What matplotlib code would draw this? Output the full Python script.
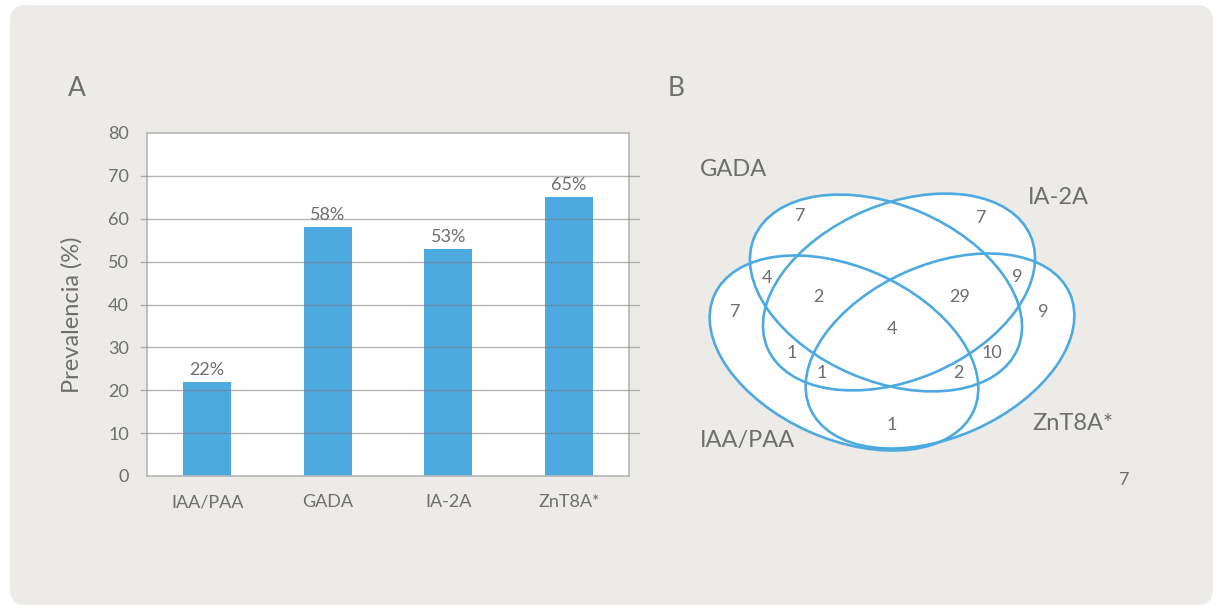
import matplotlib
matplotlib.use('Agg')
import matplotlib.pyplot as plt
from matplotlib.patches import Ellipse, FancyBboxPatch

plt.rcParams['font.family'] = ['Lato', 'DejaVu Sans']

# bar chart data (panel A)
categories = ['IAA/PAA', 'GADA', 'IA-2A', 'ZnT8A*']
prevalence = [22, 58, 53, 65]
y_ticks = [0, 10, 20, 30, 40, 50, 60, 70, 80]

# venn data (panel B)
set_names = ['GADA', 'IA-2A', 'IAA/PAA', 'ZnT8A*']
region_names = ['GADA', 'IA-2A', 'GADA+IAA', 'IA-2A+ZnT8A', 'IAA', 'GADA+IA-2A+IAA',
                'GADA+IA-2A+ZnT8A', 'ZnT8A', 'all', 'IA-2A+IAA', 'GADA+ZnT8A',
                'IA-2A+IAA+ZnT8A', 'GADA+IAA+ZnT8A', 'IAA+ZnT8A', 'none']
region_counts = [7, 7, 4, 9, 7, 2, 29, 9, 4, 1, 10, 1, 2, 1, 7]

text_col = '#6e6e6e'
blue = '#4daae0'
bg = '#ecebe7'

fig = plt.figure(figsize=(12.15, 6.05), dpi=100)
fig.patch.set_facecolor('white')

# full-figure layer in pixel units for the panel background and the venn
base = fig.add_axes([0, 0, 1, 1])
base.set_xlim(0, 1215)
base.set_ylim(605, 0)
base.axis('off')
base.add_patch(FancyBboxPatch((10, 5), 1203, 600, boxstyle='round,pad=0,rounding_size=16',
                              fc=bg, ec='none', zorder=0))

base.text(77, 88, 'A', fontsize=19, color=text_col, ha='center', va='center')
base.text(676, 88, 'B', fontsize=19, color=text_col, ha='center', va='center')

# ---- panel A ----
ax = fig.add_axes([147 / 1215, 1 - 476 / 605, (629 - 147) / 1215, (476 - 133) / 605])
ax.set_facecolor('white')
x = range(len(categories))
bars = ax.bar(x, prevalence, width=0.4, color=blue, zorder=2)
ax.set_xlim(-0.5, 3.5)
ax.set_ylim(0, 80)
ax.set_yticks(y_ticks)
ax.set_xticks(list(x))
ax.set_xticklabels(categories)
ax.tick_params(axis='both', length=0, labelsize=13, labelcolor=text_col)
ax.tick_params(axis='y', pad=13)
ax.tick_params(axis='x', pad=13)
for t in y_ticks[1:-1]:
    ax.axhline(t, xmin=-0.013, xmax=1.02, color='#7a7a7a', alpha=0.55, lw=1.0, zorder=3, clip_on=False)
for s in ax.spines.values():
    s.set_color('#b5b5b5')
    s.set_linewidth(1.2)
ax.set_ylabel('Prevalencia (%)', fontsize=17, color=text_col)
ax.yaxis.set_label_coords(-0.133, 0.47)
for b, v in zip(bars, prevalence):
    ax.annotate(f'{v}%', (b.get_x() + b.get_width() / 2, v), xytext=(0, 3),
                textcoords='offset points', ha='center', va='bottom', fontsize=13, color=text_col)

# ---- panel B ----
# ellipse layout: centre, width, height, angle (pixel units, y down)
ell_layout = [((886, 293), 286, 176, -23),
              ((899, 292), 286, 176, 23),
              ((844, 353), 284, 172, -24),
              ((940, 351), 284, 172, 24)]
for (c, w, h, a) in ell_layout:
    base.add_patch(Ellipse(c, w, h, angle=-a, fc='white', ec='none', zorder=1))
for (c, w, h, a) in ell_layout:
    base.add_patch(Ellipse(c, w, h, angle=-a, fc='none', ec=blue, lw=1.9, zorder=2))

name_pos = [(700, 170, 'left'), (1028, 198, 'left'), (700, 440, 'left'), (1032, 423, 'left')]
for name, (px, py, ha) in zip(set_names, name_pos):
    base.text(px, py, name, fontsize=17, color=text_col, ha=ha, va='center', zorder=3)

region_pos = [(800, 216), (981, 218), (767, 278), (1017, 277), (735, 312), (818, 297),
              (960, 297), (1043, 312), (892, 329), (792, 353), (992, 353), (822, 373),
              (958, 373), (892, 425), (1124, 480)]
for n, (px, py) in zip(region_counts, region_pos):
    base.text(px, py, str(n), fontsize=13, color=text_col, ha='center', va='center', zorder=3)

fig.savefig('out.png', dpi=100, facecolor=fig.get_facecolor())
